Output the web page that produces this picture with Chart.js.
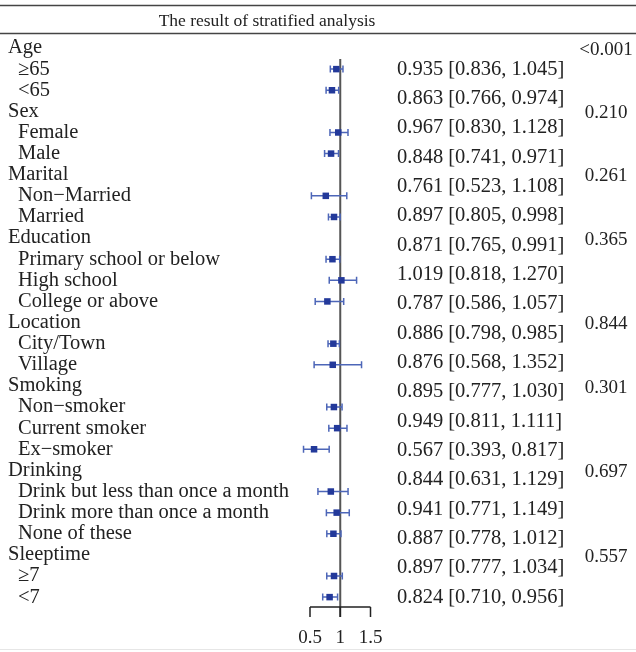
<!DOCTYPE html>
<html lang="en">
<head>
  <meta charset="UTF-8" />
  <script src="https://cdn.jsdelivr.net/npm/chart.js"></script>
  <title>The result of stratified analysis</title>
  <style>
    body { margin: 0; background: #fff; }
    canvas { display: block; }
  </style>
</head>
<body>
  <canvas id="forest" width="636" height="652"></canvas>

  <script>
    // groups, their p values and subgroups (in plotting order)
    const groups = ['Age', 'Sex', 'Marital', 'Education', 'Location', 'Smoking', 'Drinking', 'Sleeptime'];
    const pValues = ['<0.001', '0.210', '0.261', '0.365', '0.844', '0.301', '0.697', '0.557'];
    const subgroups = [
      ['≥65', '<65'],
      ['Female', 'Male'],
      ['Non−Married', 'Married'],
      ['Primary school or below', 'High school', 'College or above'],
      ['City/Town', 'Village'],
      ['Non−smoker', 'Current smoker', 'Ex−smoker'],
      ['Drink but less than once a month', 'Drink more than once a month', 'None of these'],
      ['≥7', '<7']
    ];

    // estimate and 95% CI per subgroup
    const estimates = [0.935, 0.863, 0.967, 0.848, 0.761, 0.897, 0.871, 1.019, 0.787, 0.886,
                       0.876, 0.895, 0.949, 0.567, 0.844, 0.941, 0.887, 0.897, 0.824];
    const lower = [0.836, 0.766, 0.830, 0.741, 0.523, 0.805, 0.765, 0.818, 0.586, 0.798,
                   0.568, 0.777, 0.811, 0.393, 0.631, 0.771, 0.778, 0.777, 0.710];
    const upper = [1.045, 0.974, 1.128, 0.971, 1.108, 0.998, 0.991, 1.270, 1.057, 0.985,
                   1.352, 1.030, 1.111, 0.817, 1.129, 1.149, 1.012, 1.034, 0.956];

    const xTicks = [0.5, 1, 1.5];
    const title = 'The result of stratified analysis';

    // build row layout: one row per header and per subgroup
    const headerRows = [];
    const itemRows = [];
    const itemLabels = [];
    let r = 0;
    groups.forEach((g, gi) => {
      headerRows.push(r++);
      subgroups[gi].forEach(s => { itemRows.push(r++); itemLabels.push(s); });
    });

    const SERIF = '"Liberation Serif", "DejaVu Serif", serif';
    const TEXT = '#222';

    // horizontal rules, title, CI bars, reference line, axis and text columns
    const forestPlugin = {
      id: 'forest',
      beforeDatasetsDraw(chart) {
        const { ctx, scales: { x, y } } = chart;
        ctx.save();

        // rules at top
        ctx.strokeStyle = '#444';
        ctx.lineWidth = 1.3;
        [-2.02, -0.71].forEach(rv => {
          const py = Math.round(y.getPixelForValue(rv)) + 0.5;
          ctx.beginPath(); ctx.moveTo(0, py); ctx.lineTo(chart.width, py); ctx.stroke();
        });
        ctx.strokeStyle = '#e6e6e6';
        ctx.lineWidth = 1;
        const pb = chart.height - 2.5;
        ctx.beginPath(); ctx.moveTo(0, pb); ctx.lineTo(chart.width, pb); ctx.stroke();

        // reference line at 1
        const x1 = x.getPixelForValue(1);
        ctx.strokeStyle = '#555';
        ctx.lineWidth = 2;
        ctx.beginPath();
        ctx.moveTo(x1, y.getPixelForValue(0.52));
        ctx.lineTo(x1, y.getPixelForValue(26.94));
        ctx.stroke();

        // axis bracket
        const ay = y.getPixelForValue(26.47);
        const ty = y.getPixelForValue(26.94);
        ctx.strokeStyle = '#222';
        ctx.lineWidth = 1.5;
        ctx.beginPath();
        ctx.moveTo(x.getPixelForValue(xTicks[0]), ay);
        ctx.lineTo(x.getPixelForValue(xTicks[xTicks.length - 1]), ay);
        xTicks.forEach(t => {
          const tx = x.getPixelForValue(t);
          ctx.moveTo(tx, ay); ctx.lineTo(tx, ty);
        });
        ctx.stroke();

        // confidence intervals
        ctx.strokeStyle = '#4d66b8';
        ctx.lineWidth = 1.5;
        estimates.forEach((e, i) => {
          const py = y.getPixelForValue(itemRows[i]);
          const lo = x.getPixelForValue(lower[i]);
          const hi = x.getPixelForValue(upper[i]);
          ctx.beginPath();
          ctx.moveTo(lo, py); ctx.lineTo(hi, py);
          ctx.moveTo(lo, py - 3.5); ctx.lineTo(lo, py + 3.5);
          ctx.moveTo(hi, py - 3.5); ctx.lineTo(hi, py + 3.5);
          ctx.stroke();
        });

        // text
        ctx.fillStyle = TEXT;
        ctx.textBaseline = 'middle';

        ctx.textAlign = 'center';
        ctx.font = '17.5px ' + SERIF;
        ctx.fillText(title, 267, y.getPixelForValue(-1.25));
        ctx.font = '19px ' + SERIF;
        xTicks.forEach(t => ctx.fillText(String(t), x.getPixelForValue(t), y.getPixelForValue(27.92)));

        ctx.font = '20.5px ' + SERIF;
        ctx.textAlign = 'left';
        groups.forEach((g, gi) => ctx.fillText(g, 8, y.getPixelForValue(headerRows[gi])));
        itemLabels.forEach((s, i) => ctx.fillText(s, 18, y.getPixelForValue(itemRows[i])));

        // estimate column, spread evenly from the first to the last subgroup row
        const first = itemRows[0], last = itemRows[itemRows.length - 1];
        estimates.forEach((e, i) => {
          const rv = first + (last - first) * i / (estimates.length - 1);
          const txt = e.toFixed(3) + ' [' + lower[i].toFixed(3) + ', ' + upper[i].toFixed(3) + ']';
          ctx.fillText(txt, 397, y.getPixelForValue(rv));
        });

        ctx.font = '19px ' + SERIF;
        ctx.textAlign = 'center';
        pValues.forEach((p, gi) => ctx.fillText(p, 606, y.getPixelForValue(headerRows[gi] + 0.08)));

        ctx.restore();
      }
    };

    // pixel scale: 0.5 -> 310, 1.5 -> 370.5 ; row 0 -> 48, row step 21.12
    const PX_PER_UNIT = 60.5;
    const xMin = 0.5 - 310 / PX_PER_UNIT;
    const xMax = 0.5 + (636 - 310) / PX_PER_UNIT;
    const ROW_H = 21.12;
    const yMin = -48 / ROW_H;
    const yMax = (652 - 48) / ROW_H;

    new Chart(document.getElementById('forest'), {
      type: 'scatter',
      data: {
        datasets: [{
          label: 'Estimate',
          data: estimates.map((e, i) => ({ x: e, y: itemRows[i] })),
          pointStyle: 'rect',
          pointRadius: 4.6,
          pointHoverRadius: 4.6,
          backgroundColor: '#23399a',
          borderWidth: 0
        }]
      },
      options: {
        responsive: false,
        animation: false,
        layout: { padding: 0, autoPadding: false },
        plugins: { legend: { display: false }, tooltip: { enabled: false } },
        scales: {
          x: { type: 'linear', min: xMin, max: xMax, display: false },
          y: { type: 'linear', min: yMin, max: yMax, reverse: true, display: false }
        }
      },
      plugins: [forestPlugin]
    });
  </script>
</body>
</html>
